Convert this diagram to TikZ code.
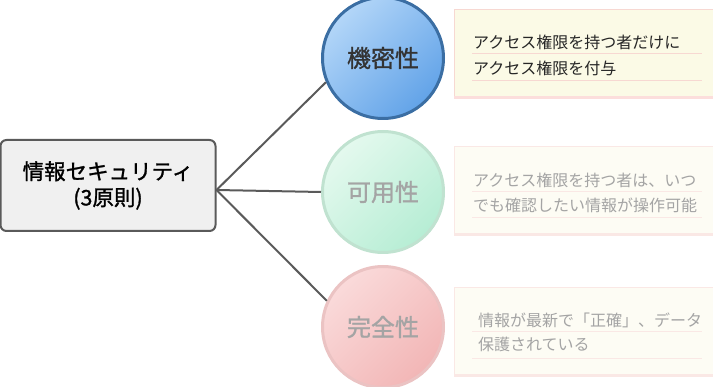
\documentclass[tikz,border=0pt]{standalone}
\usepackage{fontspec}
\setmainfont{Noto Sans CJK JP}
\newfontfamily\medfont{Noto Sans CJK JP}[FakeBold=1.2]
\usetikzlibrary{positioning}

\definecolor{linegray}{HTML}{5A5A5A}
\definecolor{boxfill}{HTML}{F0F0F0}
\definecolor{blueA}{HTML}{B3D6F8}
\definecolor{blueB}{HTML}{62A3E8}
\definecolor{blueline}{HTML}{3B6EA3}
\definecolor{greenA}{HTML}{E4F9EE}
\definecolor{greenB}{HTML}{B6EDD4}
\definecolor{greenline}{HTML}{C0E2D0}
\definecolor{redA}{HTML}{FADADA}
\definecolor{redB}{HTML}{F2B6B6}
\definecolor{redline}{HTML}{EBC3C3}
\definecolor{noteA}{HTML}{FBFAE6}
\definecolor{noteB}{HTML}{FDFCF4}
\definecolor{noteline}{HTML}{F7D8D2}
\definecolor{notelineB}{HTML}{FAE8E5}
\definecolor{faded}{HTML}{A4A4A4}

\begin{document}
\begin{tikzpicture}[
  x=1pt, y=-1pt,
  hub/.style={draw=linegray, line width=2pt, fill=boxfill, rounded corners=6pt, align=center,
    minimum width=215pt, minimum height=91pt, font=\fontsize{21.5}{26}\selectfont\medfont},
  pillar/.style={circle, line width=3pt, minimum size=121pt, inner sep=0pt,
    font=\fontsize{24}{26}\selectfont\medfont},
  notetext/.style={anchor=west, inner sep=0pt, font=\fontsize{16}{20}\selectfont},
  rule/.style={line width=0.6pt},
  link/.style={draw=linegray, line width=2pt}
]
  \useasboundingbox (0,0) rectangle (713,387);

  % notes on the right
  \fill[noteA] (454,10) rectangle (720,97);
  \draw[noteline, line width=1pt] (720,10) -- (454,10) -- (454,97);
  \draw[noteline!80!red!40, line width=3pt] (454,97.5) -- (720,97.5);
  \fill[noteB] (454,147) rectangle (720,234);
  \draw[notelineB, line width=1pt] (720,147) -- (454,147) -- (454,234);
  \draw[notelineB, line width=3pt] (454,234.5) -- (720,234.5);
  \fill[noteB] (454,288) rectangle (720,375);
  \draw[notelineB, line width=1pt] (720,288) -- (454,288) -- (454,375);
  \draw[notelineB, line width=3pt] (454,375.5) -- (720,375.5);

  \draw[rule, noteline] (472,53) -- (702,53);
  \draw[rule, noteline] (472,80) -- (702,80);
  \draw[rule, notelineB] (472,191) -- (702,191);
  \draw[rule, notelineB] (472,217) -- (702,217);
  \draw[rule, notelineB] (472,331) -- (702,331);
  \draw[rule, notelineB] (472,358) -- (702,358);

  \node[notetext, text=black!85] (conf1) at (473,42) {アクセス権限を持つ者だけに};
  \node[notetext, text=black!85] (conf2) at (473,68) {アクセス権限を付与};
  \node[notetext, text=faded] (avail1) at (473,180) {アクセス権限を持つ者は、いつ};
  \node[notetext, text=faded] (avail2) at (473,205) {でも確認したい情報が操作可能};
  \node[notetext, text=faded] (integ1) at (478,320) {情報が最新で「正確」、データ};
  \node[notetext, text=faded] (integ2) at (478,344) {保護されている};

  % hub and pillars
  \node[hub] (cia) at (108,185.5) {情報セキュリティ\\(3原則)};
  \coordinate (port) at ([yshift=-4.5pt]cia.east);
  \node[pillar, draw=blueline, top color=blueA, bottom color=blueB, shading angle=45,
    text=black!80] (conf) at (383,58) {機密性};
  \node[pillar, draw=greenline, top color=greenA, bottom color=greenB, shading angle=45,
    text=faded] (avail) at (383,192) {可用性};
  \node[pillar, draw=redline, top color=redA, bottom color=redB, shading angle=45,
    text=faded] (integ) at (383,327) {完全性};

  \draw[link] (port) -- (conf.203);
  \draw[link] (port) -- (avail.west);
  \draw[link] (port) -- (integ.155);
\end{tikzpicture}
\end{document}
